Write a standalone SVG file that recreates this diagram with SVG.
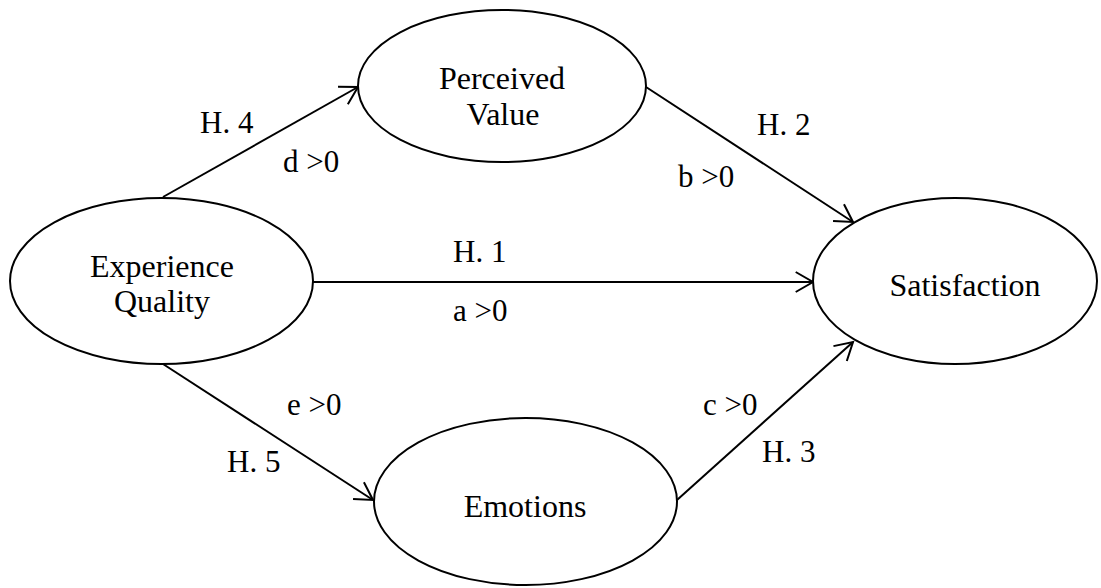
<svg xmlns="http://www.w3.org/2000/svg" width="1101" height="588" viewBox="0 0 1101 588">
<style>
.node ellipse{fill:#fff;stroke:#000;stroke-width:2}
text{font-family:'Liberation Serif','DejaVu Serif',serif;fill:#000}
.t{font-size:32px;text-anchor:middle}
.l{font-size:31px}
.edge{stroke:#000;stroke-width:2;fill:none;marker-end:url(#arr)}
</style>
<defs>
<marker id="arr" markerUnits="userSpaceOnUse" markerWidth="30" markerHeight="30" refX="0" refY="0" viewBox="-20 -15 25 30" orient="auto" overflow="visible">
<path d="M-17.3,-10 L0,0 L-17.3,10" fill="none" stroke="#000" stroke-width="2"/>
</marker>
</defs>
<rect width="1101" height="588" fill="#fff"/>
<g id="connectors">
<line class="edge" x1="163" y1="197" x2="358" y2="87"/>
<line class="edge" x1="646" y1="87" x2="853" y2="222"/>
<line class="edge" x1="313" y1="282" x2="813" y2="282"/>
<line class="edge" x1="163" y1="364" x2="373" y2="500"/>
<line class="edge" x1="677" y1="500" x2="853" y2="342"/>
<text class="l" x="200" y="133">H. 4</text>
<text class="l" x="283" y="172">d &gt;0</text>
<text class="l" x="757" y="135">H. 2</text>
<text class="l" x="678" y="187">b &gt;0</text>
<text class="l" x="453" y="262">H. 1</text>
<text class="l" x="453" y="321">a &gt;0</text>
<text class="l" x="287" y="415">e &gt;0</text>
<text class="l" x="227" y="472">H. 5</text>
<text class="l" x="703" y="415">c &gt;0</text>
<text class="l" x="762" y="462">H. 3</text>
</g>
<g id="experience-quality" class="node">
<ellipse cx="161.5" cy="281" rx="151.5" ry="83"/>
<text class="t" x="162" y="277">Experience</text>
<text class="t" x="162" y="312">Quality</text>
</g>
<g id="perceived-value" class="node">
<ellipse cx="502" cy="86" rx="144" ry="76"/>
<text class="t" x="502" y="89">Perceived</text>
<text class="t" x="503" y="125">Value</text>
</g>
<g id="satisfaction" class="node">
<ellipse cx="955" cy="281" rx="142" ry="83"/>
<text class="t" x="965" y="296">Satisfaction</text>
</g>
<g id="emotions" class="node">
<ellipse cx="525.5" cy="501.5" rx="151.5" ry="83.5"/>
<text class="t" x="525" y="517">Emotions</text>
</g>
</svg>
